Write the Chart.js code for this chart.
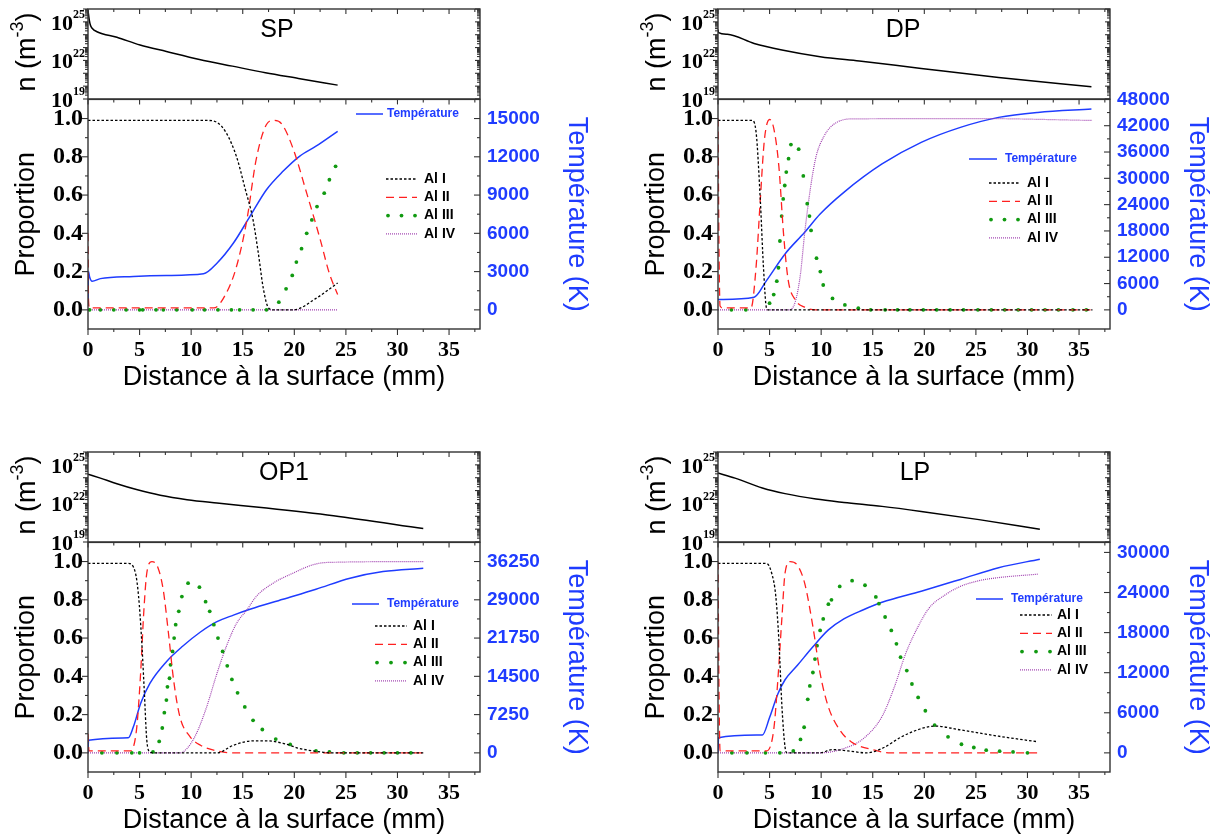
<!DOCTYPE html>
<html>
<head>
<meta charset="utf-8">
<script src="https://cdn.jsdelivr.net/npm/chart.js@4.4.1/dist/chart.umd.min.js"></script>
<style>
  html, body { margin: 0; padding: 0; background: #fff; overflow: hidden; }
  body { width: 1222px; height: 839px; position: relative; }
  canvas { position: absolute; }
</style>
</head>
<body>
<script>
// ---------- axes / labels ----------
const xTicks = [0, 5, 10, 15, 20, 25, 30, 35];
const propTicks = [0, 0.2, 0.4, 0.6, 0.8, 1.0];
const logLabelExps = [19, 22, 25];
const seriesNames = ["Al I", "Al II", "Al III", "Al IV"];
const panelNames = ["SP", "DP", "OP1", "LP"];
const spTempTicks = [0, 3000, 6000, 9000, 12000, 15000];
const dpTempTicks = [0, 6000, 12000, 18000, 24000, 30000, 36000, 42000, 48000];
const opTempTicks = [0, 7250, 14500, 21750, 29000, 36250];
const lpTempTicks = [0, 6000, 12000, 18000, 24000, 30000];

// ---------- SP ----------
const spDens = [[0, 8e25], [0.13, 1.3e25], [0.23, 5.6e24], [0.4, 3.2e24], [0.87, 1.7e24], [2.8, 6.3e23], [5.05, 1.6e23], [7.6, 5e22], [10.8, 1.2e22], [14.0, 3.6e21], [17.2, 1.1e21], [20.4, 4e20], [24.2, 1.2e20]];
const spTemp = [[0, 300], [0.05, 3000], [0.15, 2600], [0.4, 2250], [1.2, 2450], [4.4, 2620], [7.6, 2700], [11.2, 2830], [12.5, 3660], [14.1, 5240], [15.7, 7330], [17.3, 9420], [18.9, 10860], [20.5, 12040], [22.1, 12830], [24.2, 14000]];
const spAl1 = [[0, 0.99], [11.5, 0.99], [12.5, 0.98], [13.4, 0.925], [14.4, 0.8], [15.2, 0.64], [16.0, 0.47], [16.5, 0.3], [17.0, 0.11], [17.5, 0.01], [18, 0], [19.9, 0], [22.1, 0.06], [24.2, 0.14]];
const spAl2 = [[0, 0.4], [0.05, 0.05], [0.15, 0.01], [12.2, 0.01], [13.4, 0.087], [14.4, 0.227], [15.4, 0.47], [16.3, 0.785], [17.3, 0.969], [17.96, 0.99], [18.8, 0.97], [19.9, 0.84], [21.2, 0.61], [22.5, 0.37], [23.4, 0.19], [24.2, 0.08]];
const spAl3 = [[0.16, 0], [1.2, 0], [2.5, 0], [3.7, 0], [5.0, 0], [5.3, 0], [6.6, 0], [7.3, 0], [8.6, 0], [10.1, 0], [11.3, 0], [12.6, 0], [13.9, 0], [14.7, 0], [16.0, 0], [17.3, 0], [18.5, 0.04], [19.2, 0.11], [19.8, 0.18], [20.2, 0.25], [20.7, 0.32], [21.2, 0.4], [21.7, 0.47], [22.2, 0.54], [22.9, 0.61], [23.4, 0.68], [24.0, 0.75]];
const spAl4 = [[0, 0], [24.2, 0]];

// ---------- DP ----------
const dpDens = [[0, 2.5e24], [0.05, 1.45e24], [0.9, 1.07e24], [3.5, 2.1e23], [6.2, 6.5e22], [9.9, 1.95e22], [13.7, 8.9e21], [19.7, 2.4e21], [27.2, 4.8e20], [36.2, 9.1e19]];
const dpTemp = [[0, 2350], [3.5, 2890], [4.7, 6680], [6.5, 12760], [8.4, 17700], [9.9, 21870], [12.2, 26810], [15.9, 33270], [19.7, 38200], [23.5, 41620], [27.2, 43900], [31.0, 45040], [36.2, 45800]];
const dpAl1 = [[0, 0.99], [3.3, 0.99], [3.7, 0.925], [4.1, 0.576], [4.4, 0.23], [4.7, 0.01], [4.9, 0], [36.3, 0]];
const dpAl2 = [[0, 1.0], [0.1, 0.3], [0.2, 0.02], [0.5, 0.01], [3.2, 0.01], [3.7, 0.23], [4.1, 0.576], [4.5, 0.89], [5.0, 0.995], [5.4, 0.95], [5.9, 0.75], [6.35, 0.4], [6.8, 0.157], [7.5, 0.052], [8.4, 0.014], [9.5, 0], [36.3, 0]];
const dpAl3 = [[1.3, 0], [2.7, 0], [5.0, 0.035], [5.4, 0.08], [5.7, 0.15], [5.86, 0.22], [6.0, 0.36], [6.17, 0.49], [6.32, 0.58], [6.47, 0.65], [6.62, 0.72], [6.84, 0.79], [7.07, 0.864], [7.82, 0.84], [8.27, 0.7], [8.65, 0.555], [8.87, 0.49], [9.02, 0.415], [9.55, 0.27], [9.92, 0.2], [10.2, 0.13], [11.1, 0.06], [12.3, 0.026], [13.6, 0.009], [14.8, 0], [16.2, 0], [17.4, 0], [18.6, 0], [19.9, 0], [21.2, 0], [22.5, 0], [23.8, 0], [25.2, 0], [26.5, 0], [27.8, 0], [29.1, 0], [30.4, 0], [31.7, 0], [33.0, 0], [34.4, 0], [35.7, 0]];
const dpAl4 = [[0, 0], [6.9, 0], [7.5, 0.044], [8.0, 0.19], [8.4, 0.4], [9.0, 0.65], [9.5, 0.8], [10.3, 0.91], [11.2, 0.969], [12.9, 0.998], [25, 1.0], [36.3, 0.99]];

// ---------- OP1 ----------
const opDens = [[0, 1.9e24], [1.2, 9.3e23], [2.8, 3.4e23], [4.7, 1.2e23], [7.0, 4.3e22], [9.6, 1.95e22], [12.5, 1.07e22], [17.3, 4.4e21], [23.8, 1.1e21], [32.5, 1.1e20]];
const opTemp = [[0, 0], [0.05, 2400], [3.9, 2850], [4.4, 4930], [5.1, 9360], [6.0, 13160], [7.6, 17270], [9.2, 20240], [10.9, 22900], [12.5, 24860], [14.1, 26100], [15.7, 27200], [18.9, 29100], [22.1, 31000], [25.4, 33100], [28.6, 34360], [32.5, 34980]];
const opAl1 = [[0, 0.99], [3.9, 0.99], [4.6, 0.94], [4.9, 0.82], [5.2, 0.59], [5.45, 0.33], [5.7, 0.066], [6.0, 0.005], [6.3, 0], [12.5, 0], [14.1, 0.04], [16.0, 0.063], [17.3, 0.063], [18.9, 0.05], [20.5, 0.023], [22.5, 0.005], [23.5, 0], [32.5, 0]];
const opAl2 = [[0, 0.1], [0.1, 0.01], [4.1, 0.01], [4.7, 0.12], [5.1, 0.415], [5.4, 0.73], [5.7, 0.94], [6.2, 1.0], [6.8, 0.965], [7.3, 0.85], [7.8, 0.625], [8.3, 0.38], [8.9, 0.19], [9.9, 0.084], [10.9, 0.04], [12.5, 0.01], [14, 0], [32.5, 0]];
const opAl3 = [[1.35, 0], [2.8, 0], [4.25, 0], [5.0, 0], [6.3, 0.005], [6.9, 0.06], [7.2, 0.13], [7.4, 0.21], [7.6, 0.276], [7.7, 0.345], [7.9, 0.39], [8.0, 0.46], [8.2, 0.53], [8.35, 0.6], [8.5, 0.67], [8.8, 0.74], [9.1, 0.817], [9.7, 0.887], [10.8, 0.866], [11.4, 0.79], [11.8, 0.74], [12.2, 0.67], [12.6, 0.6], [13.05, 0.53], [13.5, 0.455], [13.95, 0.384], [14.5, 0.314], [15.2, 0.24], [16.0, 0.17], [16.9, 0.122], [18.2, 0.072], [19.6, 0.044], [22.1, 0.01], [23.4, 0.005], [24.8, 0], [26.1, 0], [27.4, 0], [28.7, 0], [30.0, 0], [31.3, 0]];
const opAl4 = [[0, 0], [8.9, 0], [9.6, 0.023], [10.5, 0.1], [11.5, 0.24], [12.5, 0.415], [13.4, 0.555], [14.4, 0.677], [15.4, 0.747], [16.3, 0.817], [17.95, 0.887], [19.9, 0.94], [21.8, 0.983], [23.1, 0.995], [32.5, 1.0]];

// ---------- LP ----------
const lpDens = [[0, 2.3e24], [1.65, 9.3e23], [4.3, 1.6e23], [6.5, 5.8e22], [9.5, 2.2e22], [12.2, 1.2e22], [15.9, 5.9e21], [19.7, 2.4e21], [25.3, 5.5e20], [31.2, 1.0e20]];
const lpTemp = [[0, 0], [0.05, 2270], [4.3, 2670], [5.0, 5290], [5.8, 8820], [6.5, 10940], [7.7, 13100], [9.2, 15880], [10.7, 18400], [12.2, 20060], [14.1, 21420], [15.9, 22530], [19.7, 24190], [23.5, 25960], [27.2, 27720], [31.2, 28980]];
const lpAl1 = [[0, 0.99], [4.7, 0.99], [5.2, 0.94], [5.6, 0.82], [5.9, 0.59], [6.2, 0.24], [6.5, 0.03], [6.7, 0], [9.9, 0], [11.05, 0.017], [12.6, 0.01], [14.4, 0], [15.9, 0.023], [17.8, 0.084], [19.7, 0.127], [21.0, 0.14], [23.5, 0.12], [27.2, 0.087], [31.0, 0.058]];
const lpAl2 = [[0, 1.0], [0.1, 0.3], [0.2, 0.01], [4.7, 0.01], [5.4, 0.12], [5.8, 0.38], [6.2, 0.71], [6.5, 0.94], [7.0, 1.0], [7.7, 0.98], [8.4, 0.887], [9.2, 0.66], [9.9, 0.415], [10.7, 0.24], [11.8, 0.12], [12.9, 0.058], [15.2, 0.014], [16.7, 0], [31.2, 0]];
const lpAl3 = [[1.35, 0], [2.8, 0], [4.6, 0], [6.0, 0], [7.3, 0.01], [8.0, 0.07], [8.35, 0.134], [8.7, 0.28], [8.9, 0.35], [9.2, 0.42], [9.4, 0.49], [9.6, 0.56], [9.9, 0.64], [10.2, 0.7], [10.7, 0.777], [11.0, 0.8], [11.8, 0.87], [13.0, 0.9], [14.25, 0.876], [15.3, 0.815], [15.6, 0.78], [16.2, 0.71], [16.8, 0.64], [17.3, 0.57], [17.7, 0.5], [18.3, 0.43], [18.8, 0.36], [19.4, 0.29], [20.1, 0.22], [21.0, 0.145], [22.3, 0.084], [23.6, 0.045], [24.8, 0.028], [26.0, 0.014], [27.3, 0.009], [28.6, 0.005], [30.0, 0]];
const lpAl4 = [[0, 0], [9.9, 0], [12.2, 0.023], [14.1, 0.075], [15.9, 0.19], [17.1, 0.345], [18.2, 0.52], [19.3, 0.65], [20.45, 0.756], [22.0, 0.825], [23.5, 0.87], [25.3, 0.9], [27.2, 0.916], [31.0, 0.934]];

// ---------- style / layout ----------
const sans = '"Liberation Sans", Arial, sans-serif';
const serif = '"Liberation Serif", "Times New Roman", serif';
const blue = "#1f3cff";
const styles = [
  { color: "#000000", width: 1.3, dash: [2.5, 2] },
  { color: "#ff2020", width: 1.3, dash: [8, 5] },
  { color: "#119a11", dots: true },
  { color: "#a040b0", width: 1.2, dash: [1, 1] },
];

const cols = [
  { left: 0, width: 610, rightTitlePad: 17 },
  { left: 630, width: 592, rightTitlePad: 8 },
];
const rows = [
  { top: 9, div: 99, titleY: 377.5, bottom: 400 },
  { top: 452, div: 542, titleY: 821, bottom: 839 },
];
const PLOT_L = 88, PLOT_W = 392, TOP_H = 90, BOT_H = 230;

const panels = [
  { name: panelNames[0], col: 0, row: 0, dens: spDens, temp: spTemp, al: [spAl1, spAl2, spAl3, spAl4], tTicks: spTempTicks, tMax: 16500, labelX: 189,
    leg: { tX1: 356, tX2: 383, tTx: 387, tY: 114, aX1: 386, aX2: 417, aTx: 424, aY: 179 } },
  { name: panelNames[1], col: 1, row: 0, dens: dpDens, temp: dpTemp, al: [dpAl1, dpAl2, dpAl3, dpAl4], tTicks: dpTempTicks, tMax: 48000, labelX: 185,
    leg: { tX1: 969, tX2: 997, tTx: 1005, tY: 159, aX1: 989, aX2: 1020, aTx: 1027, aY: 183 } },
  { name: panelNames[2], col: 0, row: 1, dens: opDens, temp: opTemp, al: [opAl1, opAl2, opAl3, opAl4], tTicks: opTempTicks, tMax: 39875, labelX: 196,
    leg: { tX1: 352, tX2: 379, tTx: 387, tY: 604, aX1: 375, aX2: 407, aTx: 413, aY: 626 } },
  { name: panelNames[3], col: 1, row: 1, dens: lpDens, temp: lpTemp, al: [lpAl1, lpAl2, lpAl3, lpAl4], tTicks: lpTempTicks, tMax: 31500, labelX: 197,
    leg: { tX1: 976, tX2: 1003, tTx: 1011, tY: 599, aX1: 1020, aX2: 1052, aTx: 1057, aY: 615 } },
];

const xy = (pairs) => pairs.map(([x, y]) => ({ x, y }));
const fixTicks = (vals) => (s) => { s.ticks = vals.map((v) => ({ value: v })); };
const mids = (vals) => vals.slice(1).map((v, i) => (v + vals[i]) / 2);

function makeCanvas(left, top, w, h) {
  const c = document.createElement("canvas");
  c.width = w; c.height = h;
  c.style.left = left + "px"; c.style.top = top + "px";
  c.style.width = w + "px"; c.style.height = h + "px";
  document.body.appendChild(c);
  return c;
}

function seg(ctx, x1, y1, x2, y2) {
  ctx.beginPath(); ctx.moveTo(x1, y1); ctx.lineTo(x2, y2); ctx.stroke();
}

// frame + tick marks (Origin style, minor ticks included)
function framePlugin(specs) {
  return {
    id: "frame",
    afterDraw(chart) {
      const { ctx, chartArea: a } = chart;
      ctx.save();
      ctx.strokeStyle = "#333";
      ctx.lineWidth = 1.4;
      ctx.strokeRect(a.left, a.top, a.right - a.left, a.bottom - a.top);
      ctx.lineWidth = 1.1;
      specs.forEach((t) => {
        const s = chart.scales[t.scale];
        t.values.forEach((v) => {
          const p = s.getPixelForValue(v);
          if (t.side === "bottom") seg(ctx, p, a.bottom, p, a.bottom + t.len);
          if (t.side === "top") seg(ctx, p, a.top, p, a.top + t.len);
          if (t.side === "left") seg(ctx, a.left, p, a.left - t.len, p);
          if (t.side === "right") seg(ctx, a.right, p, a.right - t.len, p);
        });
      });
      ctx.restore();
    },
  };
}

const xMinor = xTicks.map((v) => v + 2.5);
const logMajor = [], logMinor = [];
for (let e = 19; e <= 26; e++) {
  logMajor.push(Math.pow(10, e));
  if (e < 26) for (let m = 2; m <= 9; m++) logMinor.push(m * Math.pow(10, e));
}

function topChart(p) {
  const col = cols[p.col], row = rows[p.row];
  const cTop = row.top - 9, cH = 9 + TOP_H + 14;
  const canvas = makeCanvas(col.left, cTop, col.width, cH);
  return new Chart(canvas, {
    type: "line",
    data: { datasets: [{ data: xy(p.dens), borderColor: "#000", borderWidth: 1.5, pointRadius: 0, cubicInterpolationMode: "monotone" }] },
    options: {
      responsive: false, animation: false, devicePixelRatio: 1,
      layout: { padding: { left: PLOT_L, right: col.width - PLOT_L - PLOT_W, top: 9, bottom: 14 } },
      plugins: { legend: { display: false }, tooltip: { enabled: false } },
      scales: {
        x: { type: "linear", min: 0, max: 38, display: false },
        y: { type: "logarithmic", min: 1e19, max: 1e26, display: false },
      },
    },
    plugins: [
      framePlugin([
        { scale: "x", side: "top", values: xTicks, len: 5 },
        { scale: "x", side: "top", values: xMinor, len: 3 },
        { scale: "y", side: "left", values: logMajor, len: 5 },
        { scale: "y", side: "left", values: logMinor, len: 3 },
        { scale: "y", side: "right", values: logMajor, len: 5 },
        { scale: "y", side: "right", values: logMinor, len: 3 },
      ]),
      {
        id: "topDeco",
        afterDraw(chart) {
          const { ctx, chartArea: a } = chart;
          const ys = chart.scales.y;
          ctx.save();
          ctx.fillStyle = "#000";
          ctx.textBaseline = "middle";
          ctx.textAlign = "right";
          logLabelExps.forEach((e) => {
            const y = ys.getPixelForValue(Math.pow(10, e));
            ctx.font = "bold 12px " + serif;
            const ew = ctx.measureText(String(e)).width;
            ctx.fillText(String(e), a.left - 3, y - 7);
            ctx.font = "bold 22px " + serif;
            ctx.fillText("10", a.left - 3 - ew, y + 2);
          });
          // n (m^-3)
          ctx.translate(28, (a.top + a.bottom) / 2 - 2);
          ctx.rotate(-Math.PI / 2);
          const big = "27px " + sans, small = "18px " + sans;
          ctx.font = big;
          const w1 = ctx.measureText("n (m").width, w3 = ctx.measureText(")").width;
          ctx.font = small;
          const w2 = ctx.measureText("-3").width;
          let x = -(w1 + w2 + w3) / 2;
          ctx.textAlign = "left";
          ctx.font = big; ctx.fillText("n (m", x, 0); x += w1;
          ctx.font = small; ctx.fillText("-3", x, -10); x += w2;
          ctx.font = big; ctx.fillText(")", x, 0);
          ctx.restore();
          // panel label
          ctx.save();
          ctx.font = "25px " + sans;
          ctx.fillStyle = "#000";
          ctx.textAlign = "center";
          ctx.textBaseline = "middle";
          ctx.fillText(p.name, a.left + p.labelX, a.top + 21);
          ctx.restore();
        },
      },
    ],
  });
}

function bottomChart(p) {
  const col = cols[p.col], row = rows[p.row];
  const cTop = row.div - 19, cH = row.bottom - cTop;
  const xAxisH = cH - 19 - BOT_H;
  const rightW = col.width - PLOT_L - PLOT_W;
  const canvas = makeCanvas(col.left, cTop, col.width, cH);
  const tMin = -p.tMax / 11;

  const datasets = p.al.map((d, i) => {
    const st = styles[i];
    if (st.dots) {
      return { label: seriesNames[i], data: xy(d), showLine: false, pointRadius: 1.9, pointBackgroundColor: st.color, pointBorderWidth: 0, yAxisID: "y" };
    }
    return { label: seriesNames[i], data: xy(d), borderColor: st.color, borderWidth: st.width, borderDash: st.dash, pointRadius: 0, yAxisID: "y" };
  });
  datasets.push({ label: "Température", data: xy(p.temp), borderColor: blue, borderWidth: 1.5, pointRadius: 0, yAxisID: "yT" });

  return new Chart(canvas, {
    type: "line",
    data: { datasets },
    options: {
      responsive: false, animation: false, devicePixelRatio: 1,
      layout: { padding: { left: 0, right: 0, top: 19, bottom: 0 } },
      elements: { line: { cubicInterpolationMode: "monotone", fill: false } },
      plugins: { legend: { display: false }, tooltip: { enabled: false } },
      scales: {
        x: {
          type: "linear", min: 0, max: 38,
          afterBuildTicks: fixTicks(xTicks),
          afterFit: (s) => { s.height = xAxisH; },
          grid: { display: false, drawTicks: false }, border: { display: false },
          ticks: { padding: 8, maxRotation: 0, autoSkip: false, color: "#000", font: { family: serif, size: 22, weight: "bold" } },
          title: { display: true, text: "Distance à la surface (mm)", color: "#000", font: { family: sans, size: 27 },
                   padding: { top: 0, bottom: row.bottom - row.titleY - 16.2 } },
        },
        y: {
          position: "left", min: -0.1, max: 1.1,
          afterBuildTicks: fixTicks(propTicks),
          afterFit: (s) => { s.width = PLOT_L; },
          grid: { display: false, drawTicks: false }, border: { display: false },
          ticks: { padding: 5, color: "#000", callback: (v) => v.toFixed(1), font: { family: serif, size: 24, weight: "bold" } },
          title: { display: true, text: "Proportion", color: "#000", font: { family: sans, size: 27 }, padding: { top: 10, bottom: 0 } },
        },
        yT: {
          position: "right", min: tMin, max: p.tMax,
          afterBuildTicks: fixTicks(p.tTicks),
          afterFit: (s) => { s.width = rightW; },
          grid: { display: false, drawTicks: false }, border: { display: false },
          ticks: { padding: 7, color: blue, callback: (v) => String(v), font: { family: sans, size: 19, weight: "bold" } },
          title: { display: true, text: "Température (K)", color: blue, font: { family: sans, size: 27 }, padding: { top: col.rightTitlePad, bottom: 0 } },
        },
      },
    },
    plugins: [
      framePlugin([
        { scale: "x", side: "bottom", values: xTicks, len: 6 },
        { scale: "x", side: "bottom", values: xMinor, len: 3 },
        { scale: "x", side: "top", values: xTicks, len: 5 },
        { scale: "x", side: "top", values: xMinor, len: 3 },
        { scale: "y", side: "left", values: propTicks, len: 6 },
        { scale: "y", side: "left", values: mids(propTicks), len: 3 },
        { scale: "yT", side: "right", values: p.tTicks, len: 6 },
        { scale: "yT", side: "right", values: mids(p.tTicks), len: 3 },
      ]),
      {
        id: "legendBox",
        afterDraw(chart) {
          const ctx = chart.ctx;
          const L = p.leg, ox = col.left, oy = cTop;
          ctx.save();
          ctx.textBaseline = "middle";
          ctx.textAlign = "left";
          ctx.strokeStyle = blue; ctx.lineWidth = 1.5; ctx.setLineDash([]);
          seg(ctx, L.tX1 - ox, L.tY - oy, L.tX2 - ox, L.tY - oy);
          ctx.font = "bold 12px " + sans; ctx.fillStyle = blue;
          ctx.fillText("Température", L.tTx - ox, L.tY - oy);
          seriesNames.forEach((name, i) => {
            const st = styles[i];
            const y = L.aY - oy + i * 18.3;
            const x1 = L.aX1 - ox, x2 = L.aX2 - ox;
            if (st.dots) {
              ctx.fillStyle = st.color;
              [x1 + 2, (x1 + x2) / 2, x2 - 2].forEach((x) => { ctx.beginPath(); ctx.arc(x, y, 1.9, 0, Math.PI * 2); ctx.fill(); });
            } else {
              ctx.strokeStyle = st.color; ctx.lineWidth = st.width; ctx.setLineDash(st.dash);
              seg(ctx, x1, y, x2, y);
              ctx.setLineDash([]);
            }
            ctx.font = "bold 14px " + sans; ctx.fillStyle = "#000";
            ctx.fillText(name, L.aTx - ox, y);
          });
          ctx.restore();
        },
      },
    ],
  });
}

panels.forEach((p) => {
  topChart(p);
  bottomChart(p);
});
</script>
</body>
</html>
